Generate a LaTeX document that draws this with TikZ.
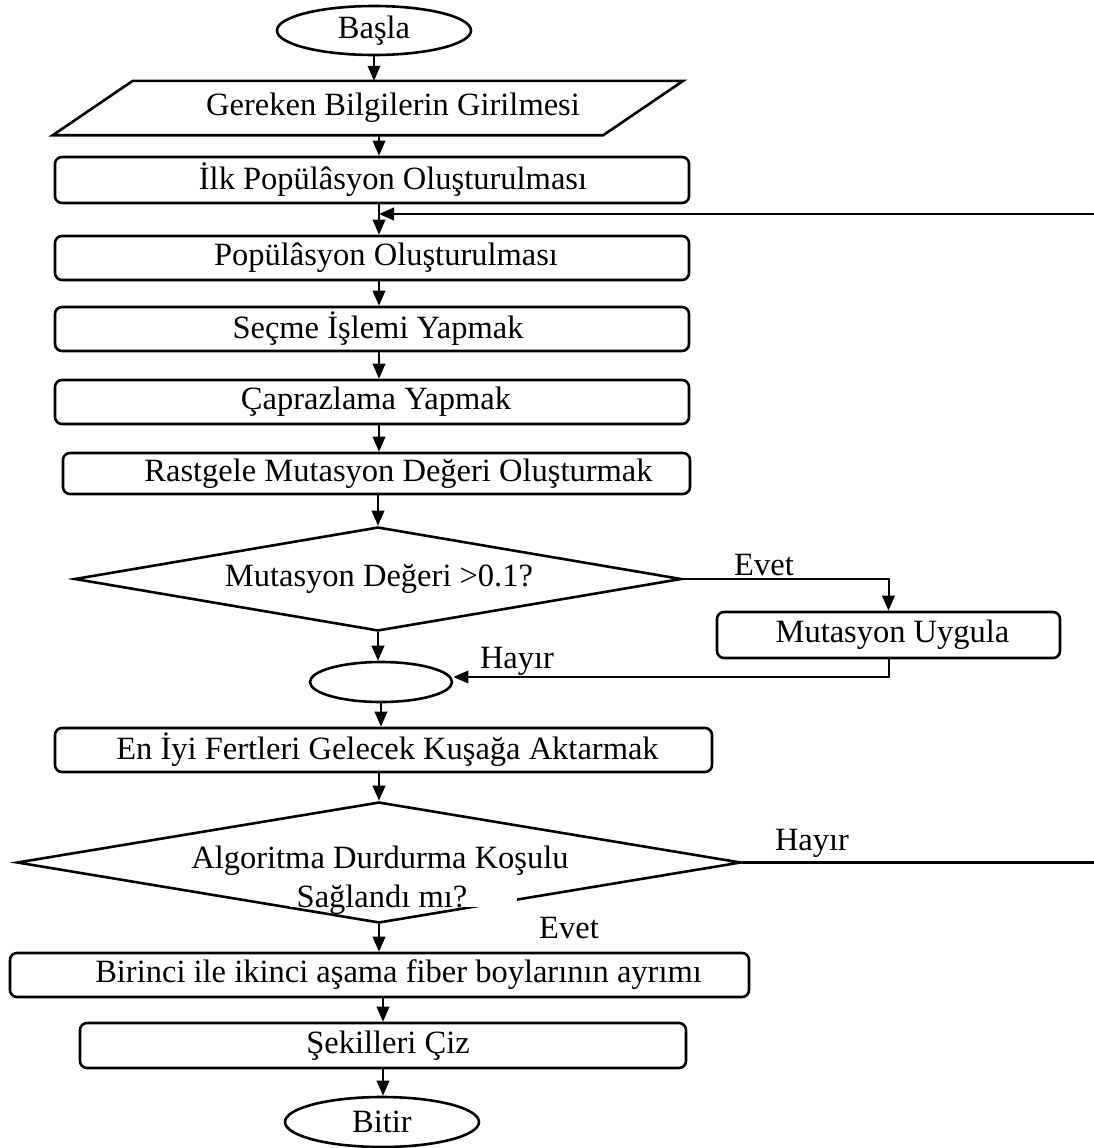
\documentclass[tikz,border=0pt]{standalone}
\usepackage{fontspec}
\setmainfont{Liberation Serif}
\usetikzlibrary{shapes.geometric,arrows.meta}
\begin{document}
\begin{tikzpicture}[x=1pt,y=-1pt,
  every node/.style={font=\fontsize{32.5}{39}\selectfont, inner sep=0pt},
  bord/.style={line width=2.6pt},
  proc/.style={draw, bord, rounded corners=7pt},
  term/.style={draw, bord, ellipse},
  decide/.style={draw, bord, diamond},
  tip/.style={-{Triangle[length=15pt,width=12.5pt]}},
  arr/.style={line width=2pt, tip},
  back/.style={line width=2.4pt},
]
\useasboundingbox (0,0) rectangle (1094,1148);

% column of the main flow
\coordinate (col) at (379,0);

% terminals, input and process steps
\node[term, minimum width=194pt, minimum height=49pt] (start) at (374,30.5) {Başla};

\node[minimum width=550pt, minimum height=54pt,
      label={[xshift=25pt]center:Gereken Bilgilerin Girilmesi}] (input) at (368,108) {};
\draw[bord, line join=miter]
  ([xshift=-40pt]input.south west) -- ([xshift=40pt]input.north west) --
  ([xshift=40pt]input.north east) -- ([xshift=-40pt]input.south east) -- cycle;

\node[proc, minimum width=634pt, minimum height=46pt,
      label={[xshift=21pt]center:İlk Popülâsyon Oluşturulması}] (p1) at (372,180) {};
\node[proc, minimum width=634pt, minimum height=44pt,
      label={[xshift=14pt]center:Popülâsyon Oluşturulması}] (p2) at (372,258) {};
\node[proc, minimum width=634pt, minimum height=44pt,
      label={[xshift=6pt]center:Seçme İşlemi Yapmak}] (p3) at (372,329) {};
\node[proc, minimum width=634pt, minimum height=44pt,
      label={[xshift=4pt]center:Çaprazlama Yapmak}] (p4) at (372,402) {};
\node[proc, minimum width=627pt, minimum height=41pt,
      label={[xshift=22pt]center:Rastgele Mutasyon Değeri Oluşturmak}] (p5) at (376.5,473.5) {};

\node[decide, minimum width=607pt, minimum height=104pt,
      label={[xshift=1pt]center:Mutasyon Değeri >0.1?}] (d1) at (378,579) {};

\node[proc, minimum width=343pt, minimum height=46pt,
      label={[xshift=4pt]center:Mutasyon Uygula}] (mu) at (888.5,635) {};

\node[term, minimum width=142pt, minimum height=40pt] (merge) at (381,682) {};

\node[proc, minimum width=657pt, minimum height=44pt,
      label={[xshift=4pt]center:En İyi Fertleri Gelecek Kuşağa Aktarmak}] (p6) at (383.5,750) {};

\node[decide, minimum width=724pt, minimum height=121pt] (d2) at (379,862.5) {};
\fill[white] (290,878) rectangle (517,907);
\node[anchor=base] (d2a) at (380,868) {Algoritma Durdurma Koşulu};
\node[anchor=base] (d2b) at (382,907) {Sağlandı mı?};

\node[proc, minimum width=739pt, minimum height=44pt,
      label={[xshift=19pt]center:Birinci ile ikinci aşama fiber boylarının ayrımı}] (p7) at (379.5,975) {};
\node[proc, minimum width=606pt, minimum height=45pt,
      label={[xshift=5pt]center:Şekilleri Çiz}] (p8) at (383,1045.5) {};

\node[term, minimum width=194pt, minimum height=50pt] (stop) at (382,1122) {Bitir};

% branch labels
\node[anchor=base] (yes1) at (764,575) {Evet};
\node[anchor=base] (no1) at (517,668) {Hayır};
\node[anchor=base] (no2) at (812,850) {Hayır};
\node[anchor=base] (yes2) at (569,938) {Evet};

% main flow connectors
\draw[arr] (start.south) -- (start.south |- input.north);
\draw[arr] (input.south -| col) -- (p1.north -| col);
\draw[arr] (p1.south -| col) -- (p2.north -| col);
\draw[arr] (p2.south -| col) -- (p3.north -| col);
\draw[arr] (p3.south -| col) -- (p4.north -| col);
\draw[arr] (p4.south -| col) -- (p5.north -| col);
\draw[arr] (p5.south -| d1.north) -- (d1.north);
\draw[arr] (d1.south) -- (d1.south |- merge.north);
\draw[arr] (merge.south) -- (merge.south |- p6.north);
\draw[arr] (p6.south -| d2.north) -- (d2.north);
\draw[arr] (d2.south) -- (d2.south |- p7.north);
\draw[arr] (p8.north |- p7.south) -- (p8.north);
\draw[arr] (p8.south) -- (p8.south |- stop.north);

% mutation branch
\draw[arr] (d1.east) -| (mu.north);
\draw[arr] (mu.south) |- ([yshift=5pt]merge.east);

% loop back when the stop condition fails
\coordinate (join) at (379,214);
\coordinate (loop) at (1100,214);
\draw[back, tip] (d2.east) -| (loop) -- (join);
\end{tikzpicture}
\end{document}
